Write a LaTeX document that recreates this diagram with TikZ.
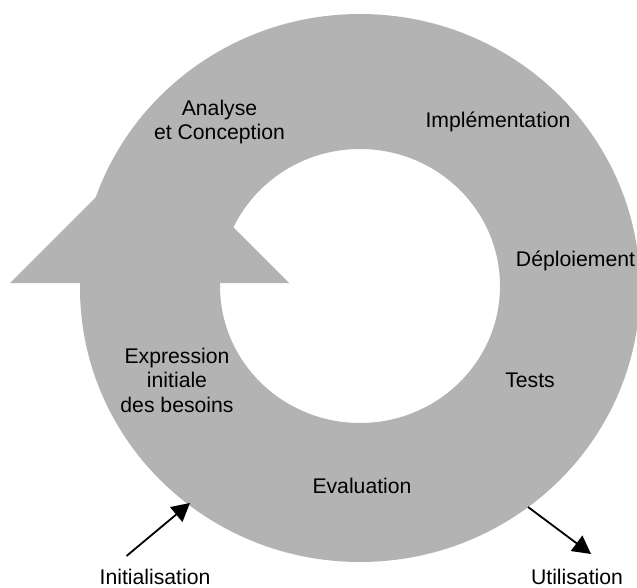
\documentclass[tikz,border=0pt]{standalone}
\usepackage{fontspec}
\setmainfont{Liberation Sans}
\usetikzlibrary{arrows.meta}
\definecolor{ringgray}{RGB}{179,179,179}
\tikzset{
  lbl/.style={inner sep=0pt, align=center, font=\fontsize{21.2pt}{24.5pt}\selectfont},
  flow/.style={line width=1.8pt, -{Triangle[length=18pt,width=19pt]}}
}
\begin{document}
\begin{tikzpicture}[x=1pt,y=-1pt]
\useasboundingbox (0,0) rectangle (637,588);
% ring and arrowhead
\fill[ringgray, even odd rule] (360,288) ellipse [x radius=280pt, y radius=274pt]
                               (360,286) ellipse [x radius=140pt, y radius=137pt];
\fill[ringgray] (10,283) -- (289,283) -- (149.5,143.5) -- cycle;
% labels
\node[lbl] (ana) at (219.5,122) {Analyse\\et Conception};
\node[lbl] (imp) at (498,122) {Implémentation};
\node[lbl] (dep) at (575.5,261) {Déploiement};
\node[lbl] (tes) at (530,380.5) {Tests};
\node[lbl] (eva) at (362,485.5) {Evaluation};
\node[lbl] (exp) at (177,380) {Expression\\initiale\\des besoins};
\node[lbl] (ini) at (155,577) {Initialisation};
\node[lbl] (uti) at (577,577) {Utilisation};
% connectors
\coordinate (inis) at (126.5,556);
\coordinate (inie) at (190,503);
\coordinate (utis) at (528,507);
\coordinate (utie) at (591,554);
\draw[flow] (inis) -- (inie);
\draw[flow] (utis) -- (utie);
\end{tikzpicture}
\end{document}
